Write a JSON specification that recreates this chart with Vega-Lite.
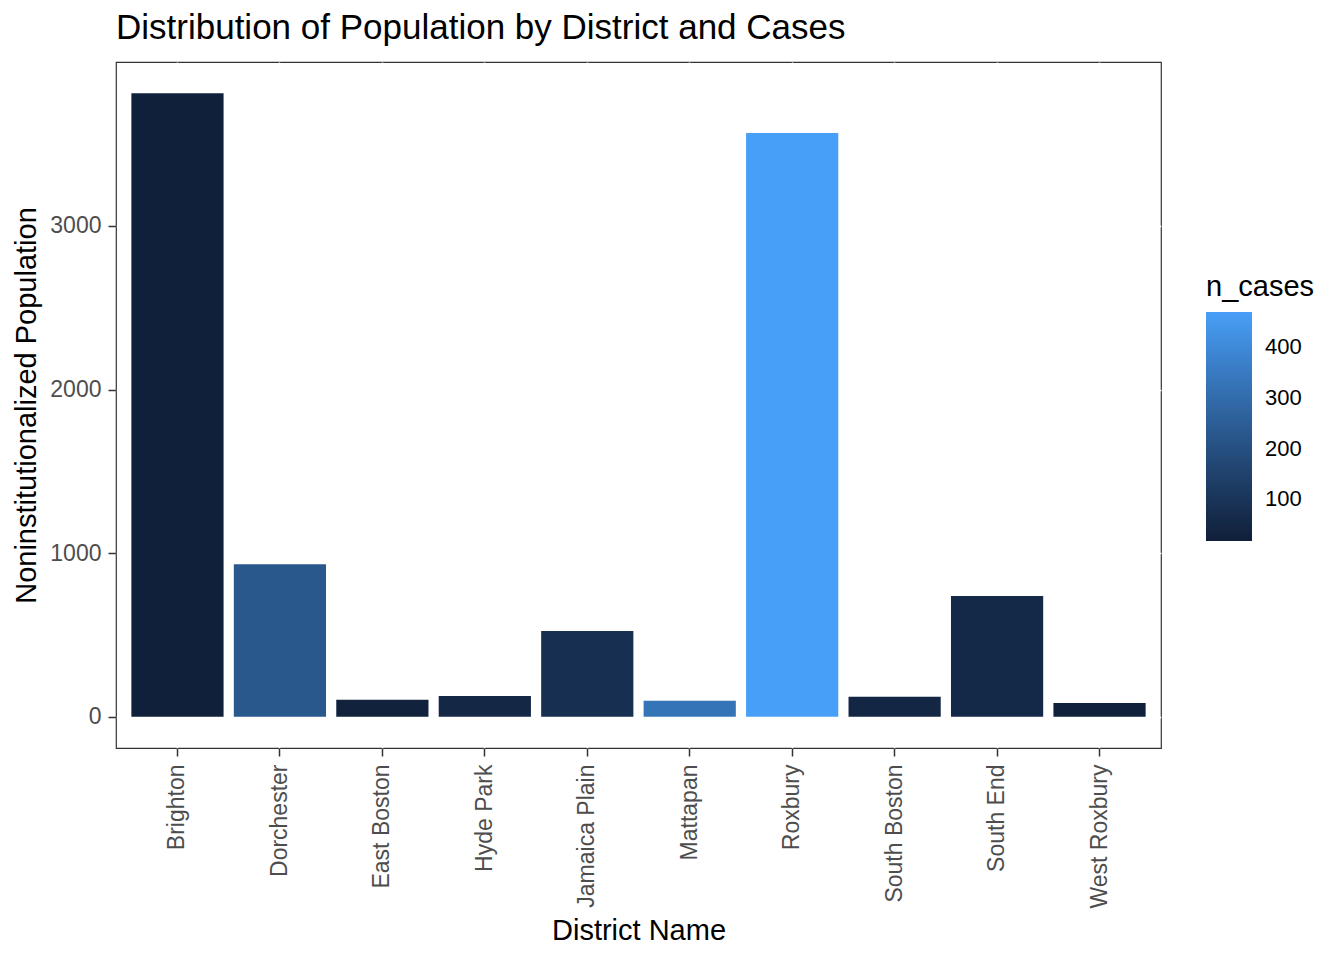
{
  "$schema": "https://vega.github.io/schema/vega-lite/v6.json",
  "width": 1045,
  "height": 686,
  "autosize": {"type": "none"},
  "padding": {"left": 116, "top": 62, "right": 183, "bottom": 212},
  "background": "white",
  "title": {
    "text": "Distribution of Population by District and Cases",
    "anchor": "start",
    "frame": "group",
    "fontSize": 35,
    "font": "Liberation Sans",
    "fontWeight": "normal",
    "color": "black",
    "offset": 16
  },
  "data": {
    "values": [
      {"district": "Brighton", "population": 3811, "n_cases": 18},
      {"district": "Dorchester", "population": 933, "n_cases": 230},
      {"district": "East Boston", "population": 104, "n_cases": 25},
      {"district": "Hyde Park", "population": 128, "n_cases": 50},
      {"district": "Jamaica Plain", "population": 524, "n_cases": 80},
      {"district": "Mattapan", "population": 98, "n_cases": 330},
      {"district": "Roxbury", "population": 3567, "n_cases": 470},
      {"district": "South Boston", "population": 122, "n_cases": 45},
      {"district": "South End", "population": 738, "n_cases": 55},
      {"district": "West Roxbury", "population": 85, "n_cases": 22}
    ]
  },
  "mark": {"type": "bar"},
  "encoding": {
    "x": {
      "field": "district",
      "type": "nominal",
      "title": "District Name",
      "scale": {"paddingInner": 0.1, "paddingOuter": 0.15},
      "axis": {
        "labelAngle": 270,
        "labelAlign": "right",
        "labelBaseline": "middle",
        "labelFontSize": 23,
        "labelColor": "#4D4D4D",
        "labelFont": "Liberation Sans",
        "labelPadding": 8,
        "titleFontSize": 29,
        "titleFont": "Liberation Sans",
        "titleFontWeight": "normal",
        "titleColor": "black",
        "titlePadding": 8,
        "domain": false,
        "ticks": true,
        "tickSize": 8,
        "tickWidth": 1.5,
        "tickColor": "#333333",
        "grid": true,
        "gridColor": "white",
        "gridWidth": 1.5
      }
    },
    "y": {
      "field": "population",
      "type": "quantitative",
      "title": "Noninstitutionalized Population",
      "scale": {"domain": [-190.5, 4001.5], "nice": false, "zero": false},
      "axis": {
        "values": [0, 1000, 2000, 3000],
        "format": "d",
        "labelFontSize": 23,
        "labelColor": "#4D4D4D",
        "labelFont": "Liberation Sans",
        "labelPadding": 7,
        "titleFontSize": 29,
        "titleFont": "Liberation Sans",
        "titleFontWeight": "normal",
        "titleColor": "black",
        "titlePadding": 8,
        "domain": false,
        "tickSize": 8,
        "tickWidth": 1.5,
        "tickColor": "#333333",
        "grid": true,
        "gridColor": "white",
        "gridWidth": 1.5
      }
    },
    "color": {
      "field": "n_cases",
      "type": "quantitative",
      "scale": {"range": ["#10203A", "#489FF8"], "interpolate": "lab", "zero": false, "nice": false},
      "legend": {
        "orient": "none",
        "legendX": 1090,
        "legendY": 211,
        "title": "n_cases",
        "titleFontSize": 29,
        "titleFont": "Liberation Sans",
        "titleFontWeight": "normal",
        "titleColor": "black",
        "titlePadding": 10,
        "gradientLength": 229,
        "gradientThickness": 46,
        "gradientStrokeWidth": 0,
        "values": [100, 200, 300, 400],
        "labelFontSize": 22,
        "labelFont": "Liberation Sans",
        "labelColor": "black",
        "labelOffset": 13
      }
    }
  },
  "config": {
    "view": {"stroke": "#333333", "strokeWidth": 1.2}
  }
}
